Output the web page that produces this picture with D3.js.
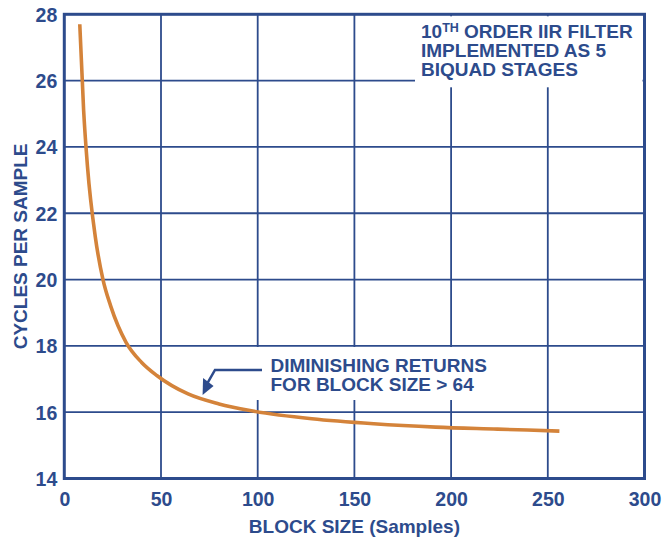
<!DOCTYPE html>
<html><head><meta charset="utf-8">
<script src="https://cdn.jsdelivr.net/npm/d3@7"></script>
<style>
body{margin:0;background:#fff;}
svg text{font-family:"Liberation Sans",Arial,Helvetica,sans-serif;font-weight:bold;fill:#2d4b8c;}
</style></head>
<body><svg id="c" width="663" height="540"></svg>
<script>
const blockSizes = [8, 10, 12, 16, 20, 24, 32, 40, 48, 64, 80, 96, 128, 160, 192, 224, 256];
const cyclesPerSample = [27.7, 25.1, 23.4, 21.3, 20.0, 19.2, 18.1, 17.5, 17.1, 16.55, 16.25, 16.05, 15.8, 15.65, 15.55, 15.49, 15.43];
const xTicks = [0, 50, 100, 150, 200, 250, 300];
const yTicks = [14, 16, 18, 20, 22, 24, 26, 28];
const xTitle = "BLOCK SIZE (Samples)";
const yTitle = "CYCLES PER SAMPLE";
const noteLines = ["IMPLEMENTED AS 5", "BIQUAD STAGES"];
const arrowLines = ["DIMINISHING RETURNS", "FOR BLOCK SIZE > 64"];

const navy = "#2d4b8c", orange = "#d4833a";
const svg = d3.select("#c");
const L = 64.3, R = 644.5, T = 14.3, B = 478.5;
const x = d3.scaleLinear().domain([0, 300]).range([L, R]);
const y = d3.scaleLinear().domain([14, 28]).range([B, T]);

// grid
svg.append("g").selectAll("line").data(xTicks.slice(1, -1)).join("line")
  .attr("x1", d => x(d)).attr("x2", d => x(d)).attr("y1", T).attr("y2", B)
  .attr("stroke", navy).attr("stroke-width", 1.8);
svg.append("g").selectAll("line").data(yTicks.slice(1, -1)).join("line")
  .attr("y1", d => y(d)).attr("y2", d => y(d)).attr("x1", L).attr("x2", R)
  .attr("stroke", navy).attr("stroke-width", 1.8);

// white boxes behind annotations
svg.append("rect").attr("x", 415).attr("y", T + 2).attr("width", R - 417).attr("height", 71).attr("fill", "#fff");
svg.append("rect").attr("x", 250).attr("y", 347).attr("width", 245).attr("height", 53).attr("fill", "#fff");

// frame
svg.append("rect").attr("x", L).attr("y", T).attr("width", R - L).attr("height", B - T)
  .attr("fill", "none").attr("stroke", navy).attr("stroke-width", 3);

// axes labels
svg.append("g").attr("transform", `translate(0,${B})`)
  .call(d3.axisBottom(x).tickValues(xTicks).tickSize(0).tickPadding(0))
  .call(g => { g.select(".domain").remove(); g.selectAll("text").attr("dy", null).attr("y", 27).style("font-size", "19.5px").attr("fill", navy); });
svg.append("g").attr("transform", `translate(${L},0)`)
  .call(d3.axisLeft(y).tickValues(yTicks).tickSize(0).tickPadding(0))
  .call(g => { g.select(".domain").remove(); g.selectAll("text").attr("x", -7).attr("dy", "0.36em").style("font-size", "19.5px").attr("fill", navy); });

svg.append("text").attr("x", (L + R) / 2).attr("y", 533).attr("text-anchor", "middle")
  .style("font-size", "19px").text(xTitle);
svg.append("text").attr("transform", `translate(27,${(T + B) / 2}) rotate(-90)`).attr("text-anchor", "middle")
  .style("font-size", "19px").text(yTitle);

// curve
svg.append("path").datum(blockSizes.map((b, i) => [b, cyclesPerSample[i]]))
  .attr("d", d3.line().x(d => x(d[0])).y(d => y(d[1])).curve(d3.curveMonotoneX))
  .attr("fill", "none").attr("stroke", orange).attr("stroke-width", 3.6);

// top-right note (single text element)
const t1 = svg.append("text").attr("x", 421).attr("y", 37.8).style("font-size", "19px");
t1.append("tspan").text("10");
t1.append("tspan").attr("dy", -6).style("font-size", "12.5px").text("TH");
t1.append("tspan").attr("dy", 6).text(" ORDER IIR FILTER");
noteLines.forEach((s, i) => t1.append("tspan").attr("x", 421).attr("dy", 19).text(s));

// arrow annotation
const t2 = svg.append("text").attr("x", 270.5).attr("y", 372).style("font-size", "19px");
arrowLines.forEach((s, i) => t2.append("tspan").attr("x", 270.5).attr("dy", i === 0 ? 0 : 19).text(s));
const tip = [x(71.5), y(16.52)];
svg.append("path").attr("d", `M262,370 H215 L${tip[0] + 5},${tip[1] - 12}`)
  .attr("fill", "none").attr("stroke", navy).attr("stroke-width", 2.5);
svg.append("path").attr("d", `M${tip[0]},${tip[1]} L${tip[0] + 0.5},${tip[1] - 17} L${tip[0] + 11},${tip[1] - 9} Z`)
  .attr("fill", navy);
</script></body></html>
